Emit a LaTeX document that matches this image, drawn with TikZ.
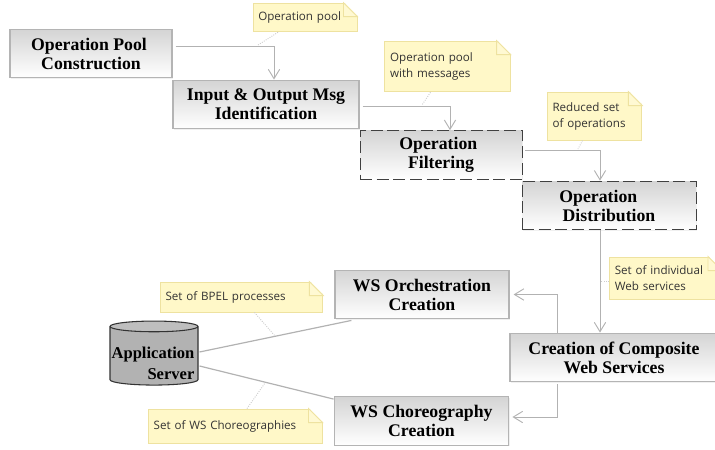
\documentclass[tikz,border=0pt]{standalone}
\usepackage{fontspec}
\setmainfont{Liberation Serif}
\newfontfamily\notefont{Open Sans}
\usetikzlibrary{arrows.meta, shapes.geometric, shadows}
\definecolor{boxedge}{RGB}{180,180,180}
\definecolor{boxtop}{RGB}{212,212,212}
\definecolor{flowcolor}{RGB}{178,178,178}
\definecolor{notefill}{RGB}{255,248,200}
\definecolor{noteedge}{RGB}{238,226,160}
\definecolor{notelink}{RGB}{205,205,205}
\definecolor{servercolor}{RGB}{178,178,178}

\begin{document}
\begin{tikzpicture}[x=0.75pt, y=-0.75pt,
    stepbox/.style={rectangle, minimum height=36.5pt, inner sep=0pt, align=center, font=\fontsize{13.3}{14.2}\selectfont\bfseries,
        top color=boxtop, bottom color=white, draw=boxedge, line width=0.9pt,
        drop shadow={opacity=0.12, shadow xshift=0.8pt, shadow yshift=-0.8pt}},
    dashbox/.style={stepbox, draw=black!75, line width=0.7pt, dash pattern=on 9pt off 3.5pt},
    note/.style={rectangle, fill=notefill, draw=noteedge, line width=0.7pt, inner sep=4pt, align=left,
        font=\notefont\fontsize{8.7}{12}\selectfont, text=black!80},
    fold/.style={fill=notefill!80!white, draw=noteedge, line width=0.7pt},
    arrow/.style={-{Straight Barb[length=7pt, width=8.5pt]}, draw=flowcolor, line width=0.7pt},
    flow/.style={draw=flowcolor, line width=0.9pt},
    link/.style={draw=notelink, line width=0.7pt, densely dotted}
]
    \clip (0,0) rectangle (715,450);

    % === STEPS ===
    \node[stepbox, minimum width=121.5pt] (poolstep) at (91,53.5) {Operation Pool\hspace*{3pt}\\Construction};
    \node[stepbox, minimum width=139.5pt] (msgstep) at (266,104.5) {Input \& Output Msg\\Identification};
    \node[dashbox, minimum width=121.5pt] (filterstep) at (441,155) {Operation\hspace*{4pt}\\Filtering};
    \node[dashbox, minimum width=130.5pt] (diststep) at (609,205.5) {Operation\hspace*{16pt}\\Distribution};
    \node[stepbox, minimum width=130.5pt] (orchstep) at (422,294.5) {WS Orchestration\\Creation};
    \node[stepbox, minimum width=156pt] (compstep) at (614,357.5) {Creation of Composite\\Web Services};
    \node[stepbox, minimum width=131pt] (chorstep) at (421.5,421) {WS Choreography\\Creation};

    % === SERVER ===
    \node[cylinder, shape border rotate=90, aspect=0.17, minimum width=66pt, minimum height=48pt, inner sep=0pt,
        cylinder uses custom fill, cylinder body fill=servercolor, cylinder end fill=servercolor!85,
        draw=black!80, line width=0.8pt] (server) at (154,356) {\phantom{Application}};
    \node[align=right, inner sep=0pt, font=\fontsize{12.4}{15.8}\selectfont\bfseries] (serverlabel) at (153,363) {Application\\Server};

    % === NOTES ===
    \node[note, minimum width=78pt, minimum height=21.5pt, text width=70pt] (poolnote) at (305,17.5) {Operation pool};
    \node[note, minimum width=94pt, minimum height=38pt, text width=86pt] (msgnote) at (447.5,66.5) {Operation pool\\with messages};
    \node[note, minimum width=71pt, minimum height=36pt, text width=63pt] (reducednote) at (594.5,116) {Reduced set\\of operations};
    \node[note, minimum width=84pt, minimum height=31.5pt, text width=76pt] (servicenote) at (665.5,278) {Set of individual\\Web services};
    \node[note, minimum width=122pt, minimum height=22.5pt, text width=114pt] (bpelnote) at (241.5,297) {Set of BPEL processes};
    \node[note, minimum width=130.5pt, minimum height=25.5pt, text width=122pt] (chornote) at (235,426) {Set of WS Choreographies};

    % === NOTE CORNERS ===
    \foreach \notename in {poolnote, msgnote, reducednote, servicenote, bpelnote, chornote} {
        \fill[white] ([shift={(-14,-1)}]\notename.north east) -| ([shift={(1,14)}]\notename.north east) -- cycle;
        \draw[fold] ([xshift=-10.5pt]\notename.north east) -- ([shift={(-14,14)}]\notename.north east) -- ([yshift=-10.5pt]\notename.north east) -- cycle;
    }

    % === FLOW ===
    \draw[arrow] ([shift={(3,-7.5)}]poolstep.east) -| ([shift={(8,0)}]msgstep.north);
    \draw[arrow] ([shift={(3,1.5)}]msgstep.east) -| ([shift={(9,0)}]filterstep.north);
    \draw[arrow] ([shift={(3,-5)}]filterstep.east) -| ([shift={(-9,0)}]diststep.north);
    \draw[arrow] ([shift={(-9,0)}]diststep.south) -- ([shift={(-14,0)}]compstep.north);
    \draw[arrow] ([shift={(48,0)}]compstep.north west) |- ([shift={(4,0)}]orchstep.east);
    \draw[arrow] ([shift={(48,2)}]compstep.south west) |- ([shift={(3,-4)}]chorstep.east);
    \draw[flow] ([shift={(1,-4)}]server.east) -- ([shift={(17,1)}]orchstep.south west);
    \draw[flow] ([shift={(1,10)}]server.east) -- ([shift={(0,3)}]chorstep.north west);

    % === NOTE LINKS ===
    \coordinate (poolend) at (258,45);
    \coordinate (msgend) at (422,105);
    \coordinate (reducedend) at (578,149);
    \coordinate (serviceend) at (600,281);
    \coordinate (bpelend) at (275,336);
    \coordinate (chorend) at (265,383);
    \draw[link] ([shift={(-27,0)}]poolnote.south) -- (poolend);
    \draw[link] ([shift={(-17,0)}]msgnote.south) -- (msgend);
    \draw[link] ([shift={(-12,0)}]reducednote.south) -- (reducedend);
    \draw[link] ([shift={(0,3)}]servicenote.west) -- (serviceend);
    \draw[link] ([shift={(13,0)}]bpelnote.south) -- (bpelend);
    \draw[link] ([shift={(12,0)}]chornote.north) -- (chorend);
\end{tikzpicture}
\end{document}
